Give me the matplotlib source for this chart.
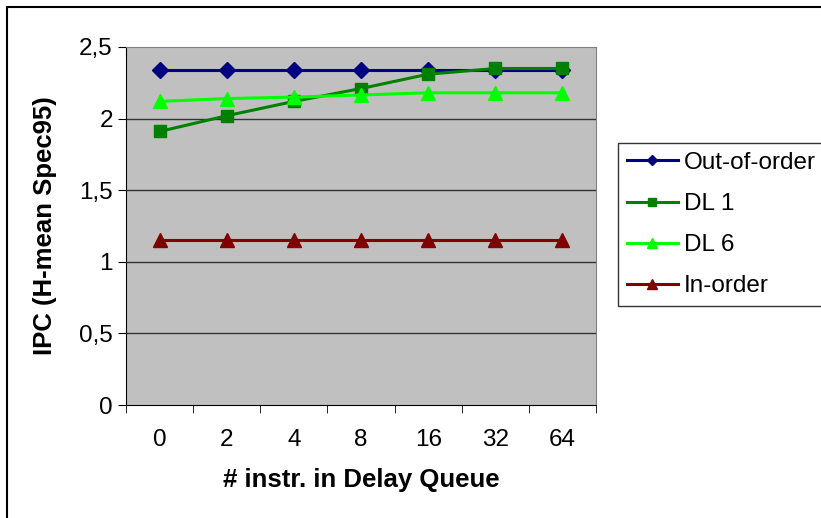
import matplotlib
matplotlib.use("Agg")
import matplotlib.pyplot as plt
from matplotlib.patches import Rectangle

plt.rcParams["font.family"] = ["Liberation Sans", "DejaVu Sans"]

queue_sizes = ["0", "2", "4", "8", "16", "32", "64"]
out_of_order = [2.34, 2.34, 2.34, 2.34, 2.34, 2.34, 2.34]
dl1 = [1.91, 2.02, 2.12, 2.21, 2.31, 2.35, 2.35]
dl6 = [2.12, 2.14, 2.15, 2.165, 2.18, 2.18, 2.18]
in_order = [1.15, 1.15, 1.15, 1.15, 1.15, 1.15, 1.15]
yticks = [0, 0.5, 1, 1.5, 2, 2.5]
ytick_labels = ["0", "0,5", "1", "1,5", "2", "2,5"]

fig = plt.figure(figsize=(8.21, 5.18), dpi=100)
# outer chart border, runs off the right and bottom edge like the original
fig.patches.append(Rectangle((7 / 821, -0.1), 1.2, 1 - 7 / 518 + 0.1,
                             transform=fig.transFigure, fill=False,
                             edgecolor="black", linewidth=1.5))

ax = fig.add_axes([126 / 821, 1 - 405 / 518, 470 / 821, 358 / 518])
ax.set_facecolor("#C0C0C0")
xx = range(len(queue_sizes))

ax.plot(xx, out_of_order, color="#000080", marker="D", markersize=8,
        linewidth=2.2, label="Out-of-order")
ax.plot(xx, dl1, color="#008000", marker="s", markersize=8,
        linewidth=2.2, label="DL 1")
ax.plot(xx, dl6, color="#00FF00", marker="^", markersize=10,
        linewidth=2.2, label="DL 6")
ax.plot(xx, in_order, color="#800000", marker="^", markersize=10,
        linewidth=2.2, label="In-order")

ax.set_xlim(-0.5, len(queue_sizes) - 0.5)
ax.set_ylim(0, 2.5)
ax.set_yticks(yticks)
ax.set_yticklabels(ytick_labels)
for y in yticks[1:-1]:
    ax.axhline(y=y, color="#333333", linewidth=1, zorder=1)

ax.set_xticks(list(xx))
ax.set_xticklabels(queue_sizes)
ax.set_xticks([i - 0.5 for i in range(len(queue_sizes) + 1)], minor=True)
ax.tick_params(axis="x", which="major", length=0, pad=17.5, labelsize=17.5)
ax.tick_params(axis="x", which="minor", length=6, direction="out")
ax.tick_params(axis="y", which="major", length=6, direction="out", labelsize=17.5)

for side in ["top", "right"]:
    ax.spines[side].set_color("#808080")
ax.spines["left"].set_color("black")
ax.spines["bottom"].set_color("black")

ax.set_xlabel("# instr. in Delay Queue", fontsize=18.5, fontweight="bold", labelpad=12)
ax.set_ylabel("IPC (H-mean Spec95)", fontsize=18.5, fontweight="bold", labelpad=16)

leg = fig.legend(loc="lower left", bbox_to_anchor=(618 / 821, 1 - 306 / 518),
                 borderaxespad=0, fontsize=17.5, frameon=True, fancybox=False,
                 handlelength=2.1, handletextpad=0.25, labelspacing=0.79,
                 borderpad=0.35, markerscale=0.7)
leg.get_frame().set_edgecolor("black")
leg.get_frame().set_linewidth(1)

fig.savefig("out.png", dpi=100)
